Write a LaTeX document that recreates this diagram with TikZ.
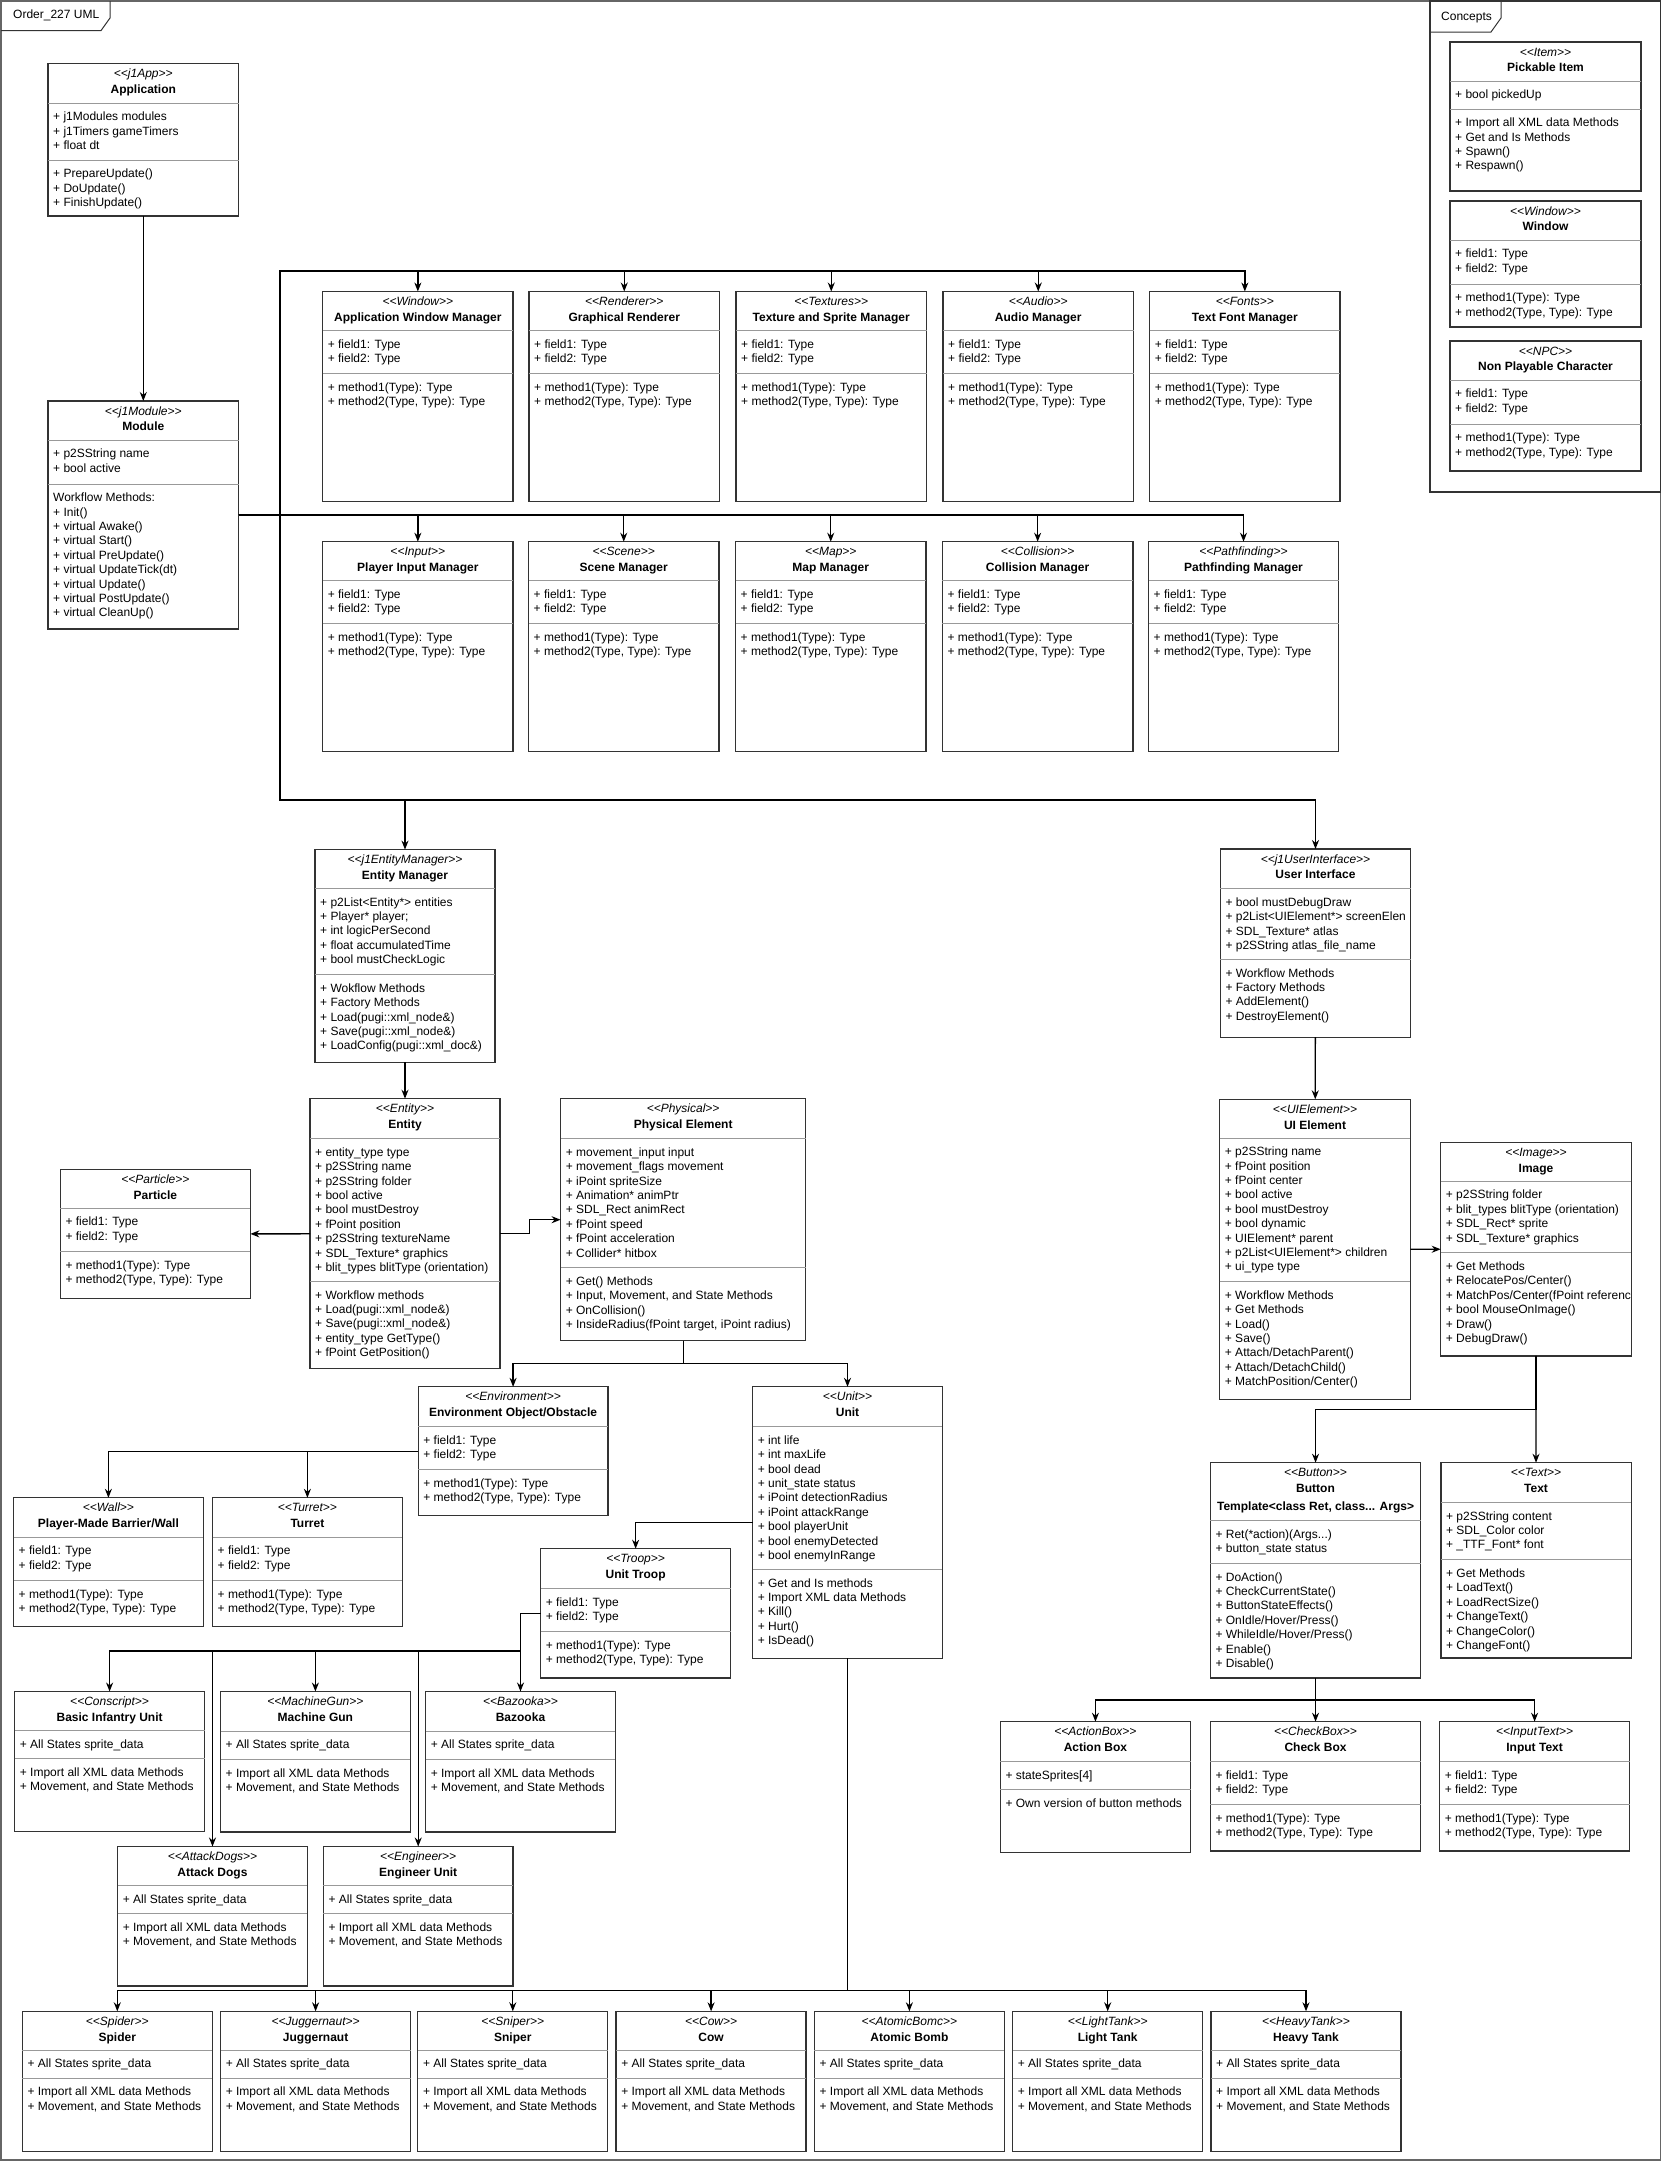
\documentclass[tikz,border=0pt]{standalone}
\usepackage{fontspec}
\setmainfont{Liberation Sans}
\usepackage{tikz}
\usetikzlibrary{arrows.meta}
\newcommand{\umlfont}{\fontsize{12}{14.4}\selectfont}

\begin{document}
\begin{tikzpicture}[x=1pt, y=-1pt, >={Stealth[length=9pt,width=7pt]},
    umlbox/.style={draw=black!80, line width=1.3pt, anchor=north west, inner sep=0pt, outer sep=0pt},
    sepline/.style={black!40, line width=0.9pt},
    stereo/.style={anchor=base, inner sep=0pt, font=\umlfont\itshape},
    ctitle/.style={anchor=base, inner sep=0pt, font=\umlfont\bfseries},
    items/.style={anchor=north west, align=left, inner sep=0pt, font=\umlfont},
    link/.style={->, line width=1.3pt},
    framebox/.style={black!60, line width=1.5pt}]
    % Hop lop: ten, x, y, rong, cao, vach 1, vach 2, stereotype, tieu de
    \def\umlclass#1#2#3#4#5#6#7#8#9{%
        \node[umlbox, minimum width=#4, minimum height=#5] (#1) at (#2,#3) {};
        \draw[sepline] (#2,#6) -- ++(#4,0);
        \draw[sepline] (#2,#7) -- ++(#4,0);
        \node[stereo] at (#2+#4/2,#3+14) {\textless\kern0pt\textless\kern0pt#8\kern0pt\textgreater\kern0pt\textgreater};
        \node[ctitle] at (#2+#4/2,#3+29.8) {#9};
        \coordinate (#1-a) at (#2+5,#6+8.8);
        \coordinate (#1-m) at (#2+5,#7+8.8);
    }
    \def\genfields{+ field1: Type\\+ field2: Type}
    \def\genmethods{+ method1(Type): Type\\+ method2(Type, Type): Type}
    \def\genstates{+ All States sprite\_data}
    \def\genunit{+ Import all XML data Methods\\+ Movement, and State Methods}

    % --- KHUNG NGOAI ---
    \useasboundingbox (0,0) rectangle (1662,2161);
    \draw[framebox] (1,1) rectangle (1660.5,2160);
    \draw[black!80, line width=1pt] (1,30.6) -- (101,30.6) -- (110,18) -- (110,1);
    \node[anchor=base west, inner sep=0pt, font=\umlfont] (frm) at (13,18.5) {Order\_227 UML};

    % --- CONCEPTS ---
    \draw[black!80, line width=1.2pt] (1430,1) rectangle (1660.5,492);
    \draw[black!80, line width=1pt] (1430,32) -- (1491,32) -- (1501,18) -- (1501,1);
    \node[anchor=base west, inner sep=0pt, font=\umlfont] (cpt) at (1441,20) {Concepts};
    \umlclass{item}{1450}{42}{191}{149}{81}{109}{Item}{Pickable Item}
    \node[items] at (item-a) {+ bool pickedUp};
    \node[items] at (item-m) {+ Import all XML data Methods\\+ Get and Is Methods\\+ Spawn()\\+ Respawn()};
    \umlclass{cwin}{1450}{201}{191}{126}{240}{284}{Window}{Window}
    \node[items] at (cwin-a) {\genfields};
    \node[items] at (cwin-m) {\genmethods};
    \umlclass{npc}{1450}{341}{191}{130}{380}{424}{NPC}{Non Playable Character}
    \node[items] at (npc-a) {\genfields};
    \node[items] at (npc-m) {\genmethods};

    % --- APPLICATION VA MODULE ---
    \umlclass{app}{48}{63.7}{190.6}{152.3}{103}{160}{j1App}{Application}
    \node[items] at (app-a) {+ j1Modules modules\\+ j1Timers gameTimers\\+ float dt};
    \node[items] at (app-m) {+ PrepareUpdate()\\+ DoUpdate()\\+ FinishUpdate()};
    \umlclass{mod}{48}{401}{190.6}{228}{440}{484}{j1Module}{Module}
    \node[items] at (mod-a) {+ p2SString name\\+ bool active};
    \node[items] at (mod-m) {Workflow Methods:\\+ Init()\\+ virtual Awake()\\+ virtual Start()\\+ virtual PreUpdate()\\+ virtual UpdateTick(dt)\\+ virtual Update()\\+ virtual PostUpdate()\\+ virtual CleanUp()};

    % --- CAC MODULE HANG 1 ---
    \umlclass{win}{322.6}{291.5}{190.5}{210.2}{330.5}{373.7}{Window}{Application Window Manager}
    \node[items] at (win-a) {\genfields};
    \node[items] at (win-m) {\genmethods};
    \umlclass{rend}{529}{291.5}{190.5}{210.2}{330.5}{373.7}{Renderer}{Graphical Renderer}
    \node[items] at (rend-a) {\genfields};
    \node[items] at (rend-m) {\genmethods};
    \umlclass{tex}{736}{291.5}{190.5}{210.2}{330.5}{373.7}{Textures}{Texture and Sprite Manager}
    \node[items] at (tex-a) {\genfields};
    \node[items] at (tex-m) {\genmethods};
    \umlclass{aud}{943}{291.5}{190.5}{210.2}{330.5}{373.7}{Audio}{Audio Manager}
    \node[items] at (aud-a) {\genfields};
    \node[items] at (aud-m) {\genmethods};
    \umlclass{fnt}{1149.7}{291.5}{190.3}{210.2}{330.5}{373.7}{Fonts}{Text Font Manager}
    \node[items] at (fnt-a) {\genfields};
    \node[items] at (fnt-m) {\genmethods};

    % --- CAC MODULE HANG 2 ---
    \umlclass{inp}{322.6}{541.7}{190.5}{210}{580.7}{623.7}{Input}{Player Input Manager}
    \node[items] at (inp-a) {\genfields};
    \node[items] at (inp-m) {\genmethods};
    \umlclass{scn}{528.5}{541.7}{190.5}{210}{580.7}{623.7}{Scene}{Scene Manager}
    \node[items] at (scn-a) {\genfields};
    \node[items] at (scn-m) {\genmethods};
    \umlclass{mapm}{735.5}{541.7}{190.5}{210}{580.7}{623.7}{Map}{Map Manager}
    \node[items] at (mapm-a) {\genfields};
    \node[items] at (mapm-m) {\genmethods};
    \umlclass{col}{942.4}{541.7}{190.5}{210}{580.7}{623.7}{Collision}{Collision Manager}
    \node[items] at (col-a) {\genfields};
    \node[items] at (col-m) {\genmethods};
    \umlclass{pth}{1148.5}{541.7}{190}{210}{580.7}{623.7}{Pathfinding}{Pathfinding Manager}
    \node[items] at (pth-a) {\genfields};
    \node[items] at (pth-m) {\genmethods};

    % --- ENTITY ---
    \umlclass{em}{315}{849.6}{180}{212.7}{888.3}{974.5}{j1EntityManager}{Entity Manager}
    \node[items] at (em-a) {+ p2List<Entity*> entities\\+ Player* player;\\+ int logicPerSecond\\+ float accumulatedTime\\+ bool mustCheckLogic};
    \node[items] at (em-m) {+ Wokflow Methods\\+ Factory Methods\\+ Load(pugi::xml\_node\&)\\+ Save(pugi::xml\_node\&)\\+ LoadConfig(pugi::xml\_doc\&)};
    \umlclass{ent}{310}{1098.7}{190}{270.1}{1138.6}{1281.4}{Entity}{Entity}
    \node[items] at (ent-a) {+ entity\_type type\\+ p2SString name\\+ p2SString folder\\+ bool active\\+ bool mustDestroy\\+ fPoint position\\+ p2SString textureName\\+ SDL\_Texture* graphics\\+ blit\_types blitType (orientation)};
    \node[items] at (ent-m) {+ Workflow methods\\+ Load(pugi::xml\_node\&)\\+ Save(pugi::xml\_node\&)\\+ entity\_type GetType()\\+ fPoint GetPosition()};
    \umlclass{part}{60.3}{1169.5}{190.1}{128.9}{1208.2}{1251.3}{Particle}{Particle}
    \node[items] at (part-a) {\genfields};
    \node[items] at (part-m) {\genmethods};
    \umlclass{phys}{560.6}{1098.7}{245.1}{242}{1138.6}{1267.5}{Physical}{Physical Element}
    \node[items] at (phys-a) {+ movement\_input input\\+ movement\_flags movement\\+ iPoint spriteSize\\+ Animation* animPtr\\+ SDL\_Rect animRect\\+ fPoint speed\\+ fPoint acceleration\\+ Collider* hitbox};
    \node[items] at (phys-m) {+ Get() Methods\\+ Input, Movement, and State Methods\\+ OnCollision()\\+ InsideRadius(fPoint target, iPoint radius)};

    % --- MOI TRUONG ---
    \umlclass{env}{418.2}{1386.8}{189.8}{129}{1426.6}{1469.5}{Environment}{Environment Object/Obstacle}
    \node[items] at (env-a) {\genfields};
    \node[items] at (env-m) {\genmethods};
    \umlclass{wall}{13.5}{1497.8}{189.8}{129}{1537.2}{1580.5}{Wall}{Player-Made Barrier/Wall}
    \node[items] at (wall-a) {\genfields};
    \node[items] at (wall-m) {\genmethods};
    \umlclass{tur}{212.5}{1497.8}{189.8}{129}{1537.2}{1580.5}{Turret}{Turret}
    \node[items] at (tur-a) {\genfields};
    \node[items] at (tur-m) {\genmethods};

    % --- DON VI ---
    \umlclass{unit}{752.6}{1386.8}{189.8}{271.4}{1426.6}{1569.4}{Unit}{Unit}
    \node[items] at (unit-a) {+ int life\\+ int maxLife\\+ bool dead\\+ unit\_state status\\+ iPoint detectionRadius\\+ iPoint attackRange\\+ bool playerUnit\\+ bool enemyDetected\\+ bool enemyInRange};
    \node[items] at (unit-m) {+ Get and Is methods\\+ Import XML data Methods\\+ Kill()\\+ Hurt()\\+ IsDead()};
    \umlclass{troop}{540.7}{1548.7}{189.9}{129.3}{1588.5}{1631.8}{Troop}{Unit Troop}
    \node[items] at (troop-a) {\genfields};
    \node[items] at (troop-m) {\genmethods};
    \umlclass{inf}{14.7}{1691.5}{189.8}{140}{1730.5}{1758.8}{Conscript}{Basic Infantry Unit}
    \node[items] at (inf-a) {\genstates};
    \node[items] at (inf-m) {\genunit};
    \umlclass{mg}{220.5}{1691.5}{189.8}{140.5}{1731}{1759.5}{MachineGun}{Machine Gun}
    \node[items] at (mg-a) {\genstates};
    \node[items] at (mg-m) {\genunit};
    \umlclass{baz}{425.6}{1691.5}{189.8}{140.5}{1731}{1759.5}{Bazooka}{Bazooka}
    \node[items] at (baz-a) {\genstates};
    \node[items] at (baz-m) {\genunit};
    \umlclass{dogs}{117.6}{1846.5}{189.8}{139.5}{1885.5}{1913.4}{AttackDogs}{Attack Dogs}
    \node[items] at (dogs-a) {\genstates};
    \node[items] at (dogs-m) {\genunit};
    \umlclass{eng}{323.3}{1846.5}{189.8}{139.5}{1885.5}{1913.4}{Engineer}{Engineer Unit}
    \node[items] at (eng-a) {\genstates};
    \node[items] at (eng-m) {\genunit};

    % Hang duoi cung
    \umlclass{spider}{22.3}{2011.3}{190}{140}{2050}{2078}{Spider}{Spider}
    \node[items] at (spider-a) {\genstates};
    \node[items] at (spider-m) {\genunit};
    \umlclass{jug}{220.6}{2011.3}{190}{140}{2050}{2078}{Juggernaut}{Juggernaut}
    \node[items] at (jug-a) {\genstates};
    \node[items] at (jug-m) {\genunit};
    \umlclass{snip}{417.8}{2011.3}{190}{140}{2050}{2078}{Sniper}{Sniper}
    \node[items] at (snip-a) {\genstates};
    \node[items] at (snip-m) {\genunit};
    \umlclass{cow}{616.1}{2011.3}{190}{140}{2050}{2078}{Cow}{Cow}
    \node[items] at (cow-a) {\genstates};
    \node[items] at (cow-m) {\genunit};
    \umlclass{bomb}{814.4}{2011.3}{190}{140}{2050}{2078}{AtomicBomc}{Atomic Bomb}
    \node[items] at (bomb-a) {\genstates};
    \node[items] at (bomb-m) {\genunit};
    \umlclass{ltank}{1012.7}{2011.3}{190}{140}{2050}{2078}{LightTank}{Light Tank}
    \node[items] at (ltank-a) {\genstates};
    \node[items] at (ltank-m) {\genunit};
    \umlclass{htank}{1211}{2011.3}{190}{140}{2050}{2078}{HeavyTank}{Heavy Tank}
    \node[items] at (htank-a) {\genstates};
    \node[items] at (htank-m) {\genunit};

    % --- GIAO DIEN ---
    \umlclass{ui}{1220.3}{849}{190.4}{188.2}{888.5}{959.3}{j1UserInterface}{User Interface}
    \begin{scope}
        \clip (ui.north west) rectangle (ui.south east);
        \node[items] at (ui-a) {+ bool mustDebugDraw\\+ p2List<UIElement*> screenElen\\+ SDL\_Texture* atlas\\+ p2SString atlas\_file\_name};
    \end{scope}
    \node[items] at (ui-m) {+ Workflow Methods\\+ Factory Methods\\+ AddElement()\\+ DestroyElement()};
    \umlclass{uie}{1219.7}{1099.3}{190.6}{300.1}{1138}{1281.6}{UIElement}{UI Element}
    \node[items] at (uie-a) {+ p2SString name\\+ fPoint position\\+ fPoint center\\+ bool active\\+ bool mustDestroy\\+ bool dynamic\\+ UIElement* parent\\+ p2List<UIElement*> children\\+ ui\_type type};
    \node[items] at (uie-m) {+ Workflow Methods\\+ Get Methods\\+ Load()\\+ Save()\\+ Attach/DetachParent()\\+ Attach/DetachChild()\\+ MatchPosition/Center()};
    \umlclass{img}{1440.7}{1142.4}{190.6}{213.5}{1181.1}{1252.7}{Image}{Image}
    \node[items] at (img-a) {+ p2SString folder\\+ blit\_types blitType (orientation)\\+ SDL\_Rect* sprite\\+ SDL\_Texture* graphics};
    \begin{scope}
        \clip (img.north west) rectangle (img.south east);
        \node[items] at (img-m) {+ Get Methods\\+ RelocatePos/Center()\\+ MatchPos/Center(fPoint referenc\\+ bool MouseOnImage()\\+ Draw()\\+ DebugDraw()};
    \end{scope}
    \umlclass{btn}{1210.3}{1462.7}{210.5}{215.3}{1520.3}{1563.3}{Button}{Button}
    \node[ctitle] (btnt) at (1315.55,1510.7) {Template<class Ret, class... Args>};
    \node[items] at (btn-a) {+ Ret(*action)(Args...)\\+ button\_state status};
    \node[items] at (btn-m) {+ DoAction()\\+ CheckCurrentState()\\+ ButtonStateEffects()\\+ OnIdle/Hover/Press()\\+ WhileIdle/Hover/Press()\\+ Enable()\\+ Disable()};
    \umlclass{txt}{1440.9}{1462.7}{190.3}{195.3}{1502.3}{1559.7}{Text}{Text}
    \node[items] at (txt-a) {+ p2SString content\\+ SDL\_Color color\\+ \_TTF\_Font* font};
    \node[items] at (txt-m) {+ Get Methods\\+ LoadText()\\+ LoadRectSize()\\+ ChangeText()\\+ ChangeColor()\\+ ChangeFont()};
    \umlclass{abox}{1000.3}{1721.7}{190.3}{130.6}{1761.3}{1789.3}{ActionBox}{Action Box}
    \node[items] at (abox-a) {+ stateSprites[4]};
    \node[items] at (abox-m) {+ Own version of button methods};
    \umlclass{cbox}{1210.3}{1721.7}{210.5}{129.3}{1761.3}{1804.7}{CheckBox}{Check Box}
    \node[items] at (cbox-a) {\genfields};
    \node[items] at (cbox-m) {\genmethods};
    \umlclass{itxt}{1439.6}{1721.7}{190}{129.3}{1761.3}{1804.7}{InputText}{Input Text}
    \node[items] at (itxt-a) {\genfields};
    \node[items] at (itxt-m) {\genmethods};

    % --- DUONG NOI ---
    \draw[link] (app) -- (mod);
    \coordinate (busA) at (280,271);
    \coordinate (busB) at (280,800);
    \draw[link] (mod.east) -| (busA) -| (win.north);
    \draw[link] (mod.east) -| (busA) -| (rend.north);
    \draw[link] (mod.east) -| (busA) -| (tex.north);
    \draw[link] (mod.east) -| (busA) -| (aud.north);
    \draw[link] (mod.east) -| (busA) -| (fnt.north);
    \draw[link] (mod.east) -| (inp.north);
    \draw[link] (mod.east) -| (scn.north);
    \draw[link] (mod.east) -| (mapm.north);
    \draw[link] (mod.east) -| (col.north);
    \draw[link] (mod.east) -| (pth.north);
    \draw[link] (mod.east) -| (busB) -| (em.north);
    \draw[link] (mod.east) -| (busB) -| (ui.north);
    % Entity
    \draw[link] (em) -- (ent);
    \draw[link] (ent) -- (part);
    \draw[link] (ent.east) -- ++(29.4,0) |- (phys.west);
    \draw[link] (phys.south) -- ++(0,22.9) -| (env.north);
    \draw[link] (phys.south) -- ++(0,22.9) -| (unit.north);
    \draw[link] (env.west) -| (tur.north);
    \draw[link] (env.west) -| (wall.north);
    % Don vi
    \draw[link] (unit.west) -| (troop.north);
    \coordinate (jTroop) at (520.5,1651);
    \draw[link] (troop.west) -| (jTroop) -| (inf.north);
    \draw[link] (troop.west) -| (jTroop) -| (dogs.north);
    \draw[link] (troop.west) -| (jTroop) -| (mg.north);
    \draw[link] (troop.west) -| (jTroop) -| (eng.north);
    \draw[link] (troop.west) -| (baz.north);
    \coordinate (jUnit) at (847.5,1990.7);
    \draw[link] (unit.south) -- (jUnit) -| (spider.north);
    \draw[link] (unit.south) -- (jUnit) -| (jug.north);
    \draw[link] (unit.south) -- (jUnit) -| (snip.north);
    \draw[link] (unit.south) -- (jUnit) -| (cow.north);
    \draw[link] (unit.south) -- (jUnit) -| (bomb.north);
    \draw[link] (unit.south) -- (jUnit) -| (ltank.north);
    \draw[link] (unit.south) -- (jUnit) -| (htank.north);
    % Giao dien
    \draw[link] (ui) -- (uie);
    \draw[link] (uie) -- (img);
    \draw[link] (img.south) -- ++(0,53.6) -| (btn.north);
    \draw[link] (img) -- (txt);
    \draw[link] (btn.south) -- ++(0,22) -| (abox.north);
    \draw[link] (btn) -- (cbox);
    \draw[link] (btn.south) -- ++(0,22) -| (itxt.north);
\end{tikzpicture}
\end{document}
